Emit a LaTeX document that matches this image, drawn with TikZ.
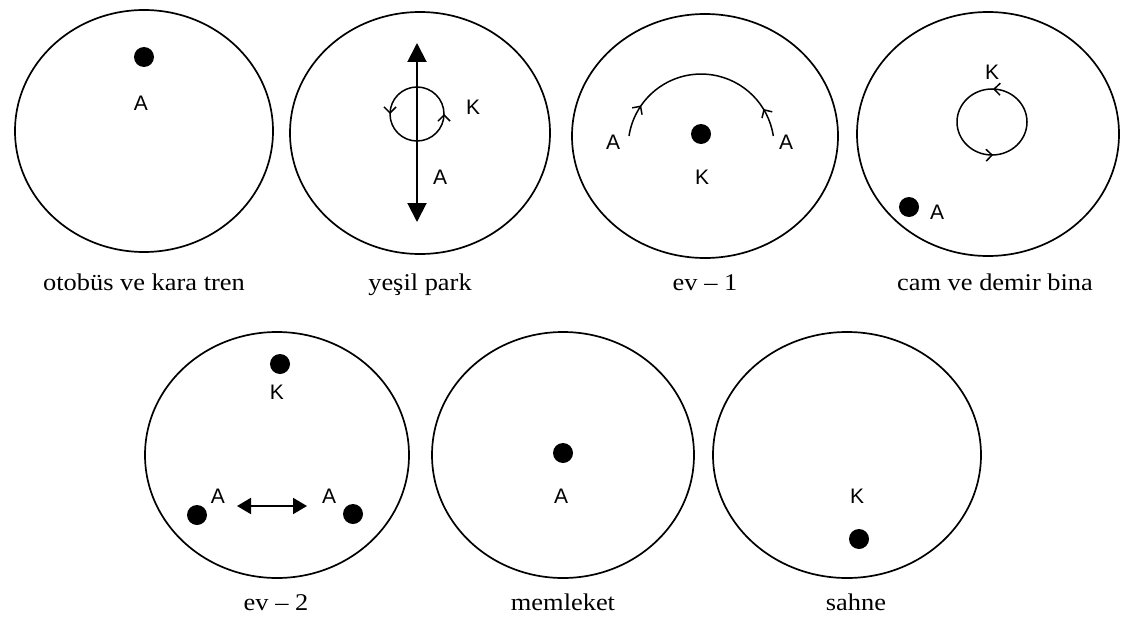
\documentclass[tikz,border=0pt]{standalone}
\usepackage{fontspec}
\setmainfont{Liberation Serif}
\newfontfamily\lblsans{Liberation Sans}
\usetikzlibrary{arrows.meta,decorations.markings}
\tikzset{
  x=1pt, y=-1pt,
  zone/.style={line width=1.7pt},
  dotmark/.style={circle, fill=black, inner sep=0pt, minimum size=20pt},
  letter/.style={inner sep=0pt, font=\lblsans\fontsize{21}{21}\selectfont},
  caption/.style={inner sep=0pt, anchor=base, font=\fontsize{24}{24}\selectfont},
  thinloop/.style={line width=1.5pt},
  bigarrow/.style={line width=2pt, {Triangle[length=19pt,width=19pt]}-{Triangle[length=19pt,width=19pt]}},
  smallarrow/.style={line width=2pt, {Triangle[length=14pt,width=16pt]}-{Triangle[length=14pt,width=16pt]}},
  barb/.tip={Straight Barb[length=6pt,width=12pt,line width=1.5pt]}
}
\newcommand{\capwide}[1]{\scalebox{1.1}[1]{#1}}
\begin{document}
\begin{tikzpicture}
\useasboundingbox (0,0) rectangle (1124,618);

% top row circles
\draw[zone] (144,131) ellipse [x radius=129, y radius=121];
\draw[zone] (420,133) ellipse [x radius=130, y radius=121];
\draw[zone] (705,136) ellipse [x radius=133, y radius=122];
\draw[zone] (988,134) ellipse [x radius=131, y radius=122];
% bottom row circles
\draw[zone] (277,455) ellipse [x radius=132, y radius=123];
\draw[zone] (563,455) ellipse [x radius=131, y radius=123];
\draw[zone] (847,455) ellipse [x radius=134, y radius=123];

% captions
\node[caption] (c1) at (144,290) {\capwide{otobüs ve kara tren}};
\node[caption] (c2) at (420,290) {\capwide{yeşil park}};
\node[caption] (c3) at (705,290) {\capwide{ev -- 1}};
\node[caption] (c4) at (995,290) {\capwide{cam ve demir bina}};
\node[caption] (c5) at (276,610) {\capwide{ev -- 2}};
\node[caption] (c6) at (563,610) {\capwide{memleket}};
\node[caption] (c7) at (856,610) {\capwide{sahne}};

% 1: otobüs ve kara tren
\node[dotmark] (d1) at (144,57) {};
\node[letter] (a1) at (141,103) {A};

% 2: yeşil park
\coordinate (v2top) at (417,43);
\coordinate (v2bot) at (417,222);
\draw[bigarrow] (v2top) -- (v2bot);
\draw[thinloop, decoration={markings,
   mark=at position 0.25 with {\arrow{barb}},
   mark=at position 0.75 with {\arrow{barb}}}, postaction={decorate}]
  (417,87) arc[start angle=-90, end angle=-450, radius=27];
\node[letter] (k2) at (473,107) {K};
\node[letter] (a2) at (440,177) {A};

% 3: ev - 1
\draw[thinloop, decoration={markings,
   mark=at position 0.16 with {\arrow{barb}},
   mark=at position 0.86 with {\arrowreversed{barb}}}, postaction={decorate}]
  (629,136) arc[start angle=-171.3, end angle=-8.7, radius=73];
\node[dotmark] (d3) at (701,134) {};
\node[letter] (a3l) at (613,142) {A};
\node[letter] (a3r) at (786,142) {A};
\node[letter] (k3) at (702,177) {K};

% 4: cam ve demir bina
\node[letter] (k4) at (992,72) {K};
\draw[thinloop, decoration={markings,
   mark=at position 0.245 with {\arrow{barb}},
   mark=at position 0.755 with {\arrow{barb}}}, postaction={decorate}]
  (1027,122) arc[start angle=0, end angle=-360, x radius=35, y radius=33];
\node[dotmark] (d4) at (909,207) {};
\node[letter] (a4) at (937,212) {A};

% 5: ev - 2
\node[dotmark] (d5k) at (280,364) {};
\node[letter] (k5) at (277,392) {K};
\node[dotmark] (d5l) at (197,515) {};
\node[letter] (a5l) at (218,496) {A};
\node[dotmark] (d5r) at (353,514) {};
\node[letter] (a5r) at (329,496) {A};
\coordinate (h5l) at (237,506);
\coordinate (h5r) at (307,506);
\draw[smallarrow] (h5l) -- (h5r);

% 6: memleket
\node[dotmark] (d6) at (563,453) {};
\node[letter] (a6) at (561,496) {A};

% 7: sahne
\node[letter] (k7) at (857,496) {K};
\node[dotmark] (d7) at (859,539) {};
\end{tikzpicture}
\end{document}
